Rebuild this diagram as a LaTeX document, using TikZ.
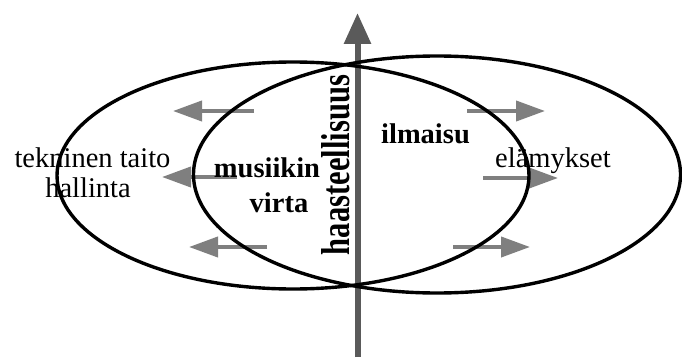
\documentclass[tikz,border=0pt]{standalone}
\usepackage{fontspec}
\setmainfont{Liberation Serif}
\usetikzlibrary{arrows.meta}
\definecolor{axisgray}{HTML}{5A5A5A}
\definecolor{flowgray}{HTML}{7F7F7F}
\tikzset{
  ring/.style={draw=black,line width=3.4pt},
  flow/.style={draw=flowgray,line width=4pt,-{Triangle[length=29pt,width=20pt]}},
  axis/.style={draw=axisgray,line width=6pt,-{Triangle[length=31pt,width=26pt]}},
  lbl/.style={inner sep=0pt,anchor=base,font=\fontsize{28.5}{32}\selectfont},
  blbl/.style={lbl,font=\fontsize{28.5}{32}\selectfont\bfseries}
}
\begin{document}
\begin{tikzpicture}[x=1pt,y=-1pt]
\useasboundingbox (0,0) rectangle (682,361);
% axis
\coordinate (axb) at (357.5,357);
\coordinate (axt) at (357.5,13);
\draw[axis] (axb) -- (axt);
% flow arrows
\coordinate (l1s) at (254,111); \coordinate (l1e) at (173,111);
\coordinate (l2s) at (237,177); \coordinate (l2e) at (162,177);
\coordinate (l3s) at (267,247); \coordinate (l3e) at (189,247);
\coordinate (r1s) at (467,111); \coordinate (r1e) at (545,111);
\coordinate (r2s) at (483,178); \coordinate (r2e) at (558,178);
\coordinate (r3s) at (453,247); \coordinate (r3e) at (530,247);
\draw[flow] (l1s) -- (l1e);
\draw[flow] (l2s) -- (l2e);
\draw[flow] (l3s) -- (l3e);
\draw[flow] (r1s) -- (r1e);
\draw[flow] (r2s) -- (r2e);
\draw[flow] (r3s) -- (r3e);
% ellipses
\draw[ring] (293,175.5) ellipse [x radius=236pt, y radius=113.5pt];
\draw[ring] (437,174.5) ellipse [x radius=243.5pt, y radius=118.5pt];
% vertical text
\node[inner sep=0pt,rotate=90] (haaste) at (336,165)
  {\resizebox{180pt}{28pt}{\bfseries haasteellisuus}};
% labels
\node[lbl] (tek) at (92.5,167) {tekninen taito};
\node[lbl] (hal) at (88,197) {hallinta};
\node[blbl] (mus) at (267,177) {musiikin};
\node[blbl] (vir) at (279,212) {virta};
\node[blbl] (ilm) at (425.5,143) {ilmaisu};
\node[lbl] (ela) at (553,167) {elämykset};
\end{tikzpicture}
\end{document}
